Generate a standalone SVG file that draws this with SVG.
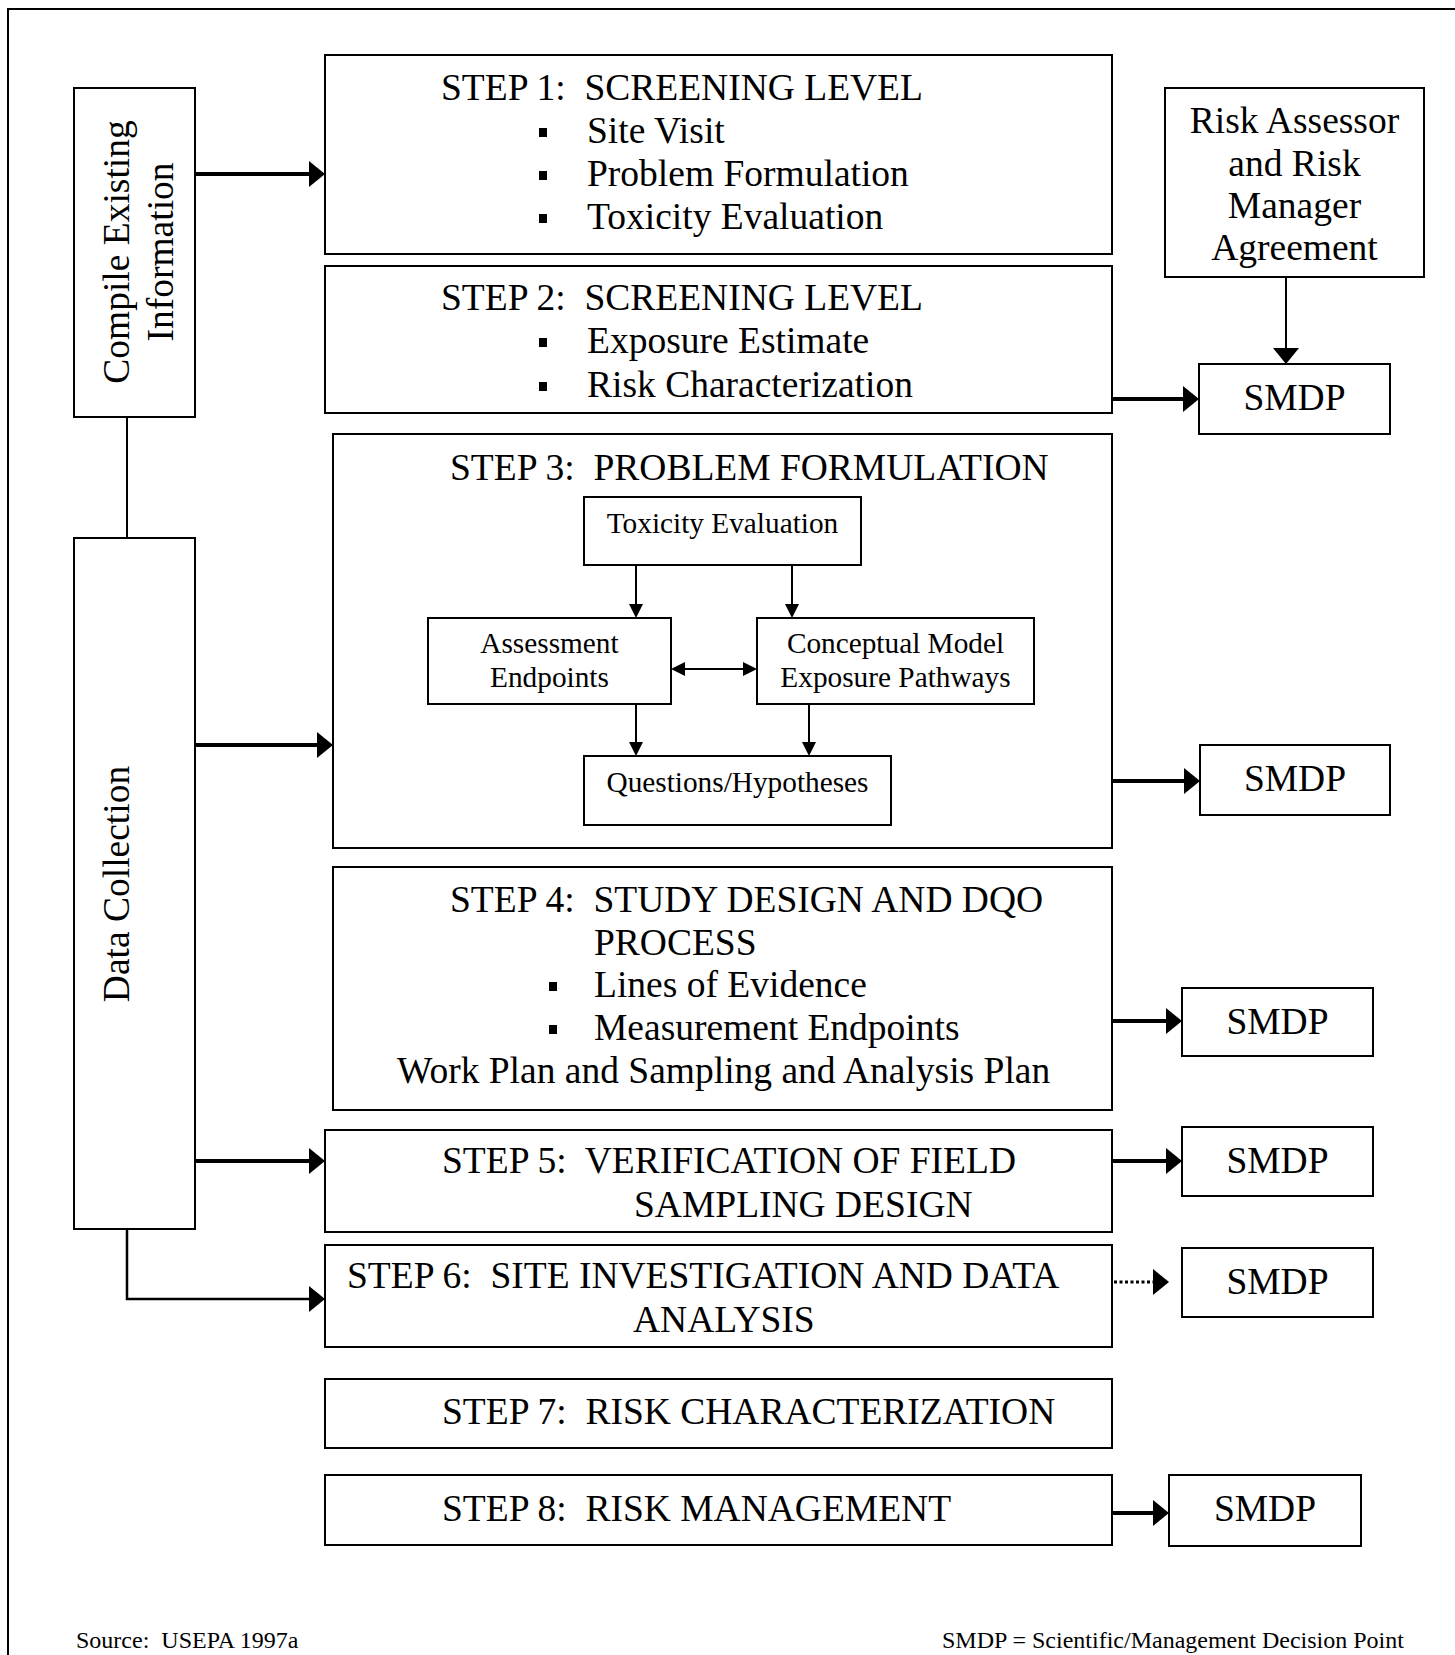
<svg xmlns="http://www.w3.org/2000/svg" width="1455" height="1655" viewBox="0 0 1455 1655" xml:space="preserve">
<style>
  text { font-family: "Liberation Serif", "Times New Roman", serif; font-size: 37.5px; fill: #000; white-space: pre; }
  .sm { font-size: 29.3px; }
  .ft { font-size: 24px; }
  .mid { text-anchor: middle; }
  .box { fill: #fff; stroke: #000; stroke-width: 2; }
  .thick { fill: none; stroke: #000; stroke-width: 4; }
  .thin { fill: none; stroke: #000; stroke-width: 2; }
  .dot { fill: none; stroke: #000; stroke-width: 3; stroke-dasharray: 3 2.5; }
  .bul { fill: #000; }
</style>
<defs>
  <marker id="big" markerUnits="userSpaceOnUse" markerWidth="16" markerHeight="26" refX="0" refY="13" orient="auto">
    <path d="M0,0 L16,13 L0,26 z" fill="#000"/>
  </marker>
  <marker id="small" markerUnits="userSpaceOnUse" markerWidth="14" markerHeight="14" refX="0" refY="7" orient="auto-start-reverse">
    <path d="M0,0 L14,7 L0,14 z" fill="#000"/>
  </marker>
</defs>

<path d="M8,1655 V9 H1455" fill="none" stroke="#000" stroke-width="2"/>

<g id="compile">
  <rect class="box" x="74" y="88" width="121" height="329"/>
  <text class="mid" transform="translate(129,252) rotate(-90)">Compile Existing</text>
  <text class="mid" transform="translate(173,252) rotate(-90)">Information</text>
</g>
<g id="datacollection">
  <rect class="box" x="74" y="538" width="121" height="691"/>
  <text class="mid" transform="translate(129,884) rotate(-90)">Data Collection</text>
</g>

<g id="step1">
  <rect class="box" x="325" y="55" width="787" height="199"/>
  <text x="441" y="100">STEP 1:  SCREENING LEVEL</text>
  <rect class="bul" x="539" y="128" width="8" height="9"/>
  <text x="587" y="143">Site Visit</text>
  <rect class="bul" x="539" y="171" width="8" height="9"/>
  <text x="587" y="186">Problem Formulation</text>
  <rect class="bul" x="539" y="214" width="8" height="9"/>
  <text x="587" y="229">Toxicity Evaluation</text>
</g>
<g id="step2">
  <rect class="box" x="325" y="266" width="787" height="147"/>
  <text x="441" y="310">STEP 2:  SCREENING LEVEL</text>
  <rect class="bul" x="539" y="338" width="8" height="9"/>
  <text x="587" y="353">Exposure Estimate</text>
  <rect class="bul" x="539" y="382" width="8" height="9"/>
  <text x="587" y="397">Risk Characterization</text>
</g>
<g id="step3">
  <rect class="box" x="333" y="434" width="779" height="414"/>
  <text x="450" y="480">STEP 3:  PROBLEM FORMULATION</text>
</g>
<g id="toxicity">
  <rect class="box" x="584" y="497" width="277" height="68"/>
  <text class="sm mid" x="722.5" y="533">Toxicity Evaluation</text>
</g>
<g id="assessment">
  <rect class="box" x="428" y="618" width="243" height="86"/>
  <text class="sm mid" x="549.5" y="653">Assessment</text>
  <text class="sm mid" x="549.5" y="687">Endpoints</text>
</g>
<g id="conceptual">
  <rect class="box" x="757" y="618" width="277" height="86"/>
  <text class="sm mid" x="895.5" y="653">Conceptual Model</text>
  <text class="sm mid" x="895.5" y="687">Exposure Pathways</text>
</g>
<g id="questions">
  <rect class="box" x="584" y="756" width="307" height="69"/>
  <text class="sm mid" x="737.5" y="792">Questions/Hypotheses</text>
</g>
<g id="step4">
  <rect class="box" x="333" y="867" width="779" height="243"/>
  <text x="450" y="912">STEP 4:  STUDY DESIGN AND DQO</text>
  <text x="594" y="955">PROCESS</text>
  <rect class="bul" x="549" y="982" width="8" height="9"/>
  <text x="594" y="997">Lines of Evidence</text>
  <rect class="bul" x="549" y="1025" width="8" height="9"/>
  <text x="594" y="1040">Measurement Endpoints</text>
  <text x="397" y="1083">Work Plan and Sampling and Analysis Plan</text>
</g>
<g id="step5">
  <rect class="box" x="325" y="1130" width="787" height="102"/>
  <text x="442" y="1173">STEP 5:  VERIFICATION OF FIELD</text>
  <text x="634" y="1217">SAMPLING DESIGN</text>
</g>
<g id="step6">
  <rect class="box" x="325" y="1245" width="787" height="102"/>
  <text x="347" y="1288">STEP 6:  SITE INVESTIGATION AND DATA</text>
  <text x="633" y="1332">ANALYSIS</text>
</g>
<g id="step7">
  <rect class="box" x="325" y="1379" width="787" height="69"/>
  <text x="442" y="1424">STEP 7:  RISK CHARACTERIZATION</text>
</g>
<g id="step8">
  <rect class="box" x="325" y="1475" width="787" height="70"/>
  <text x="442" y="1521">STEP 8:  RISK MANAGEMENT</text>
</g>

<g id="agreement">
  <rect class="box" x="1165" y="88" width="259" height="189"/>
  <text class="mid" x="1294.5" y="133">Risk Assessor</text>
  <text class="mid" x="1294.5" y="176">and Risk</text>
  <text class="mid" x="1294.5" y="218">Manager</text>
  <text class="mid" x="1294.5" y="260">Agreement</text>
</g>
<g id="smdp1">
  <rect class="box" x="1199" y="364" width="191" height="70"/>
  <text class="mid" x="1294.5" y="410">SMDP</text>
</g>
<g id="smdp2">
  <rect class="box" x="1200" y="745" width="190" height="70"/>
  <text class="mid" x="1295" y="791">SMDP</text>
</g>
<g id="smdp3">
  <rect class="box" x="1182" y="988" width="191" height="68"/>
  <text class="mid" x="1277.5" y="1034">SMDP</text>
</g>
<g id="smdp4">
  <rect class="box" x="1182" y="1127" width="191" height="69"/>
  <text class="mid" x="1277.5" y="1173">SMDP</text>
</g>
<g id="smdp5">
  <rect class="box" x="1182" y="1248" width="191" height="69"/>
  <text class="mid" x="1277.5" y="1294">SMDP</text>
</g>
<g id="smdp8">
  <rect class="box" x="1169" y="1475" width="192" height="71"/>
  <text class="mid" x="1265" y="1521">SMDP</text>
</g>

<g id="connectors">
  <line class="thick" x1="195" y1="174" x2="309" y2="174" marker-end="url(#big)"/>
  <line class="thin" x1="127" y1="417" x2="127" y2="538"/>
  <line class="thick" x1="195" y1="745" x2="317" y2="745" marker-end="url(#big)"/>
  <line class="thick" x1="195" y1="1161" x2="309" y2="1161" marker-end="url(#big)"/>
  <path d="M127,1229 V1299 H309" fill="none" stroke="#000" stroke-width="2.5" marker-end="url(#big)"/>
  <line class="thin" x1="1286" y1="277" x2="1286" y2="348" marker-end="url(#big)"/>
  <line class="thick" x1="1112" y1="399" x2="1183" y2="399" marker-end="url(#big)"/>
  <line class="thick" x1="1112" y1="781" x2="1184" y2="781" marker-end="url(#big)"/>
  <line class="thick" x1="1112" y1="1021" x2="1166" y2="1021" marker-end="url(#big)"/>
  <line class="thick" x1="1112" y1="1161" x2="1166" y2="1161" marker-end="url(#big)"/>
  <line class="dot" x1="1114" y1="1282" x2="1153" y2="1282"/>
  <path d="M1153,1269 L1169,1282 L1153,1295 z" fill="#000"/>
  <line class="thick" x1="1112" y1="1513" x2="1153" y2="1513" marker-end="url(#big)"/>
  <line class="thin" x1="636" y1="565" x2="636" y2="604" marker-end="url(#small)"/>
  <line class="thin" x1="792" y1="565" x2="792" y2="604" marker-end="url(#small)"/>
  <line class="thin" x1="636" y1="704" x2="636" y2="742" marker-end="url(#small)"/>
  <line class="thin" x1="809" y1="704" x2="809" y2="742" marker-end="url(#small)"/>
  <line class="thin" x1="685" y1="669" x2="743" y2="669" marker-start="url(#small)" marker-end="url(#small)"/>
</g>

<text class="ft" x="76" y="1648">Source:  USEPA 1997a</text>
<text class="ft" x="942" y="1648">SMDP = Scientific/Management Decision Point</text>
</svg>
